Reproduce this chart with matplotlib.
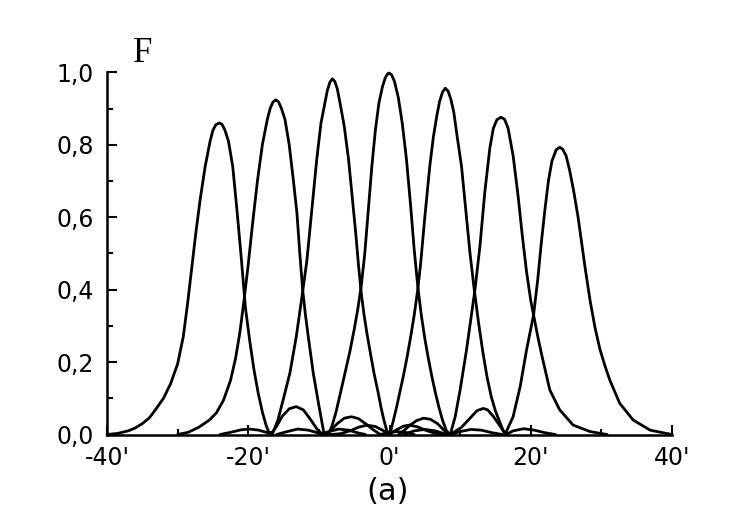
import matplotlib
matplotlib.use("Agg")
import matplotlib.pyplot as plt
from matplotlib.ticker import MultipleLocator, FixedLocator, FixedFormatter

# ---- data (angle in arc-minutes, F normalised) ----
beam_m24_x = [-40, -38.5, -37, -36, -35, -34, -33, -32, -31, -30, -29.2, -28.6, -28, -27.4,
              -26.8, -26.1, -25.4, -25.0, -24.6, -24.1, -23.7, -23.3, -22.8, -22.2, -21.6,
              -21.0, -20.4, -19.8, -19.2, -18.6, -18.0, -17.5, -17.1, -16.6, -16.0, -15.2,
              -14.2, -13.2, -12.2, -11.2, -10.3, -9.6, -8.6, -7.2, -5.8, -4.4, -3.4]
beam_m24_y = [0, 0.003, 0.010, 0.018, 0.030, 0.046, 0.072, 0.10, 0.14, 0.195, 0.27, 0.36,
              0.46, 0.56, 0.65, 0.74, 0.81, 0.84, 0.855, 0.86, 0.856, 0.84, 0.81, 0.74, 0.62,
              0.49, 0.35, 0.26, 0.18, 0.115, 0.062, 0.027, 0.006, 0.006, 0.022, 0.05, 0.071,
              0.077, 0.068, 0.042, 0.016, 0.002, 0.008, 0.015, 0.012, 0.004, 0.0]

beam_m16_x = [-30, -28.5, -27, -25.5, -24.5, -23.5, -22.5, -21.8, -21.2, -20.6, -20.0, -19.4,
              -18.7, -18.0, -17.3, -16.9, -16.5, -16.1, -15.7, -15.3, -14.8, -14.2, -13.6,
              -13.1, -12.7, -12.3, -11.9, -11.5, -10.8, -10.0, -9.3, -8.8, -8.4, -7.4, -6.4,
              -5.4, -4.4, -3.4, -2.3, -1.3, -0.5, 1.0, 2.5, 3.5]
beam_m16_y = [0, 0.006, 0.02, 0.04, 0.06, 0.095, 0.15, 0.21, 0.28, 0.37, 0.47, 0.58, 0.70,
              0.80, 0.87, 0.90, 0.918, 0.924, 0.918, 0.90, 0.87, 0.80, 0.70, 0.61, 0.50, 0.40,
              0.33, 0.27, 0.17, 0.08, 0.005, 0.004, 0.01, 0.03, 0.045, 0.049, 0.044, 0.03,
              0.013, 0.0, 0.004, 0.008, 0.005, 0.0]

beam_m8_x = [-24, -22.5, -21, -19.8, -18.5, -17.3, -16.6, -15.8, -15.0, -14.1, -13.2, -12.4,
             -11.7, -11.0, -10.3, -9.7, -9.1, -8.8, -8.45, -8.1, -7.75, -7.4, -7.0, -6.4,
             -5.8, -5.3, -4.8, -4.4, -4.0, -3.6, -3.2, -2.8, -2.2, -1.6, -1.2, -0.8, -0.4,
             -0.1, 1.0, 2.0, 2.8, 4.0, 5.2, 6.5, 7.8]
beam_m8_y = [0, 0.006, 0.013, 0.015, 0.012, 0.005, 0.0, 0.04, 0.10, 0.17, 0.27, 0.38, 0.48,
             0.62, 0.76, 0.86, 0.92, 0.95, 0.972, 0.982, 0.975, 0.955, 0.915, 0.85, 0.76,
             0.66, 0.56, 0.47, 0.39, 0.33, 0.28, 0.235, 0.17, 0.115, 0.075, 0.04, 0.012, 0.0,
             0.013, 0.023, 0.026, 0.021, 0.011, 0.003, 0.0]

beam_0_x = [-16, -14.5, -13, -11.5, -10, -8.7, -8.2, -7.6, -7.0, -6.3, -5.6, -5.0, -4.5, -4.0,
            -3.5, -3.0, -2.5, -2.0, -1.5, -1.0, -0.6, -0.25, -0.05, 0.3, 0.7, 1.25, 1.8, 2.4,
            3.0, 3.5, 4.0, 4.5, 5.0, 5.5, 6.0, 6.5, 7.0, 7.5, 8.0, 8.5, 10, 11.5, 13, 14.5, 16]
beam_0_y = [0, 0.008, 0.015, 0.012, 0.004, 0.0, 0.02, 0.06, 0.11, 0.17, 0.23, 0.29, 0.345,
            0.41, 0.50, 0.62, 0.74, 0.84, 0.915, 0.96, 0.985, 0.996, 0.998, 0.993, 0.975,
            0.93, 0.86, 0.76, 0.63, 0.51, 0.41, 0.33, 0.265, 0.21, 0.16, 0.115, 0.075, 0.04,
            0.013, 0.0, 0.008, 0.014, 0.012, 0.005, 0]

beam_p8_x = [-8.4, -7, -5.6, -4.4, -3.2, -2, -1, 0.05, 0.5, 1.0, 1.5, 2.0, 2.5, 3.0, 3.5, 4.0,
             4.4, 5.0, 5.7, 6.2, 6.7, 7.1, 7.5, 7.9, 8.3, 8.7, 9.1, 9.6, 10.2, 10.8, 11.4,
             12.0, 12.6, 13.2, 13.8, 14.4, 15.0, 15.6, 16.1, 16.5, 17.5, 19, 20.5, 22, 23.5]
beam_p8_y = [0, 0.002, 0.01, 0.02, 0.026, 0.022, 0.012, 0.0, 0.035, 0.075, 0.12, 0.165,
             0.215, 0.27, 0.33, 0.40, 0.47, 0.60, 0.74, 0.82, 0.88, 0.92, 0.945, 0.956,
             0.948, 0.925, 0.89, 0.82, 0.74, 0.62, 0.50, 0.40, 0.31, 0.23, 0.16, 0.105,
             0.065, 0.035, 0.01, 0.0, 0.01, 0.016, 0.012, 0.005, 0.0]

beam_p16_x = [1.3, 2.0, 2.8, 3.8, 4.8, 5.8, 6.8, 7.8, 8.6, 9.3, 10.0, 10.9, 11.6, 12.1, 12.8,
              13.5, 14.2, 14.7, 15.2, 15.8, 16.3, 16.8, 17.5, 18.2, 18.8, 19.4, 20.0, 20.4,
              21.0, 21.55, 22.7, 24.1, 26.0, 28.4, 30.8]
beam_p16_y = [0, 0.01, 0.024, 0.038, 0.045, 0.042, 0.03, 0.01, 0.0, 0.049, 0.123, 0.233,
              0.33, 0.40, 0.519, 0.67, 0.79, 0.845, 0.869, 0.876, 0.87, 0.845, 0.77, 0.66,
              0.55, 0.45, 0.37, 0.33, 0.27, 0.22, 0.123, 0.068, 0.026, 0.008, 0.0]

beam_p24_x = [2, 3.5, 5, 6.5, 8.1, 9.0, 10.2, 11.4, 12.4, 13.3, 13.9, 14.7, 15.6, 16.4, 17.5,
              18.5, 19.4, 20.4, 21.0, 21.5, 22.0, 22.5, 23.0, 23.6, 24.1, 24.5, 25.0, 25.5,
              26.1, 26.7, 27.2, 27.7, 28.4, 29.1, 29.8, 30.5, 31.2, 32.6, 34.5, 36.9, 39.2, 40]
beam_p24_y = [0, 0.01, 0.014, 0.01, 0.0, 0.005, 0.02, 0.045, 0.066, 0.072, 0.068, 0.05,
              0.025, 0.002, 0.049, 0.132, 0.233, 0.33, 0.43, 0.53, 0.62, 0.70, 0.755, 0.786,
              0.793, 0.788, 0.77, 0.73, 0.67, 0.60, 0.53, 0.46, 0.37, 0.295, 0.235, 0.19,
              0.15, 0.086, 0.04, 0.012, 0.003, 0.0]

beams = [(beam_m24_x, beam_m24_y), (beam_m16_x, beam_m16_y), (beam_m8_x, beam_m8_y),
         (beam_0_x, beam_0_y), (beam_p8_x, beam_p8_y), (beam_p16_x, beam_p16_y),
         (beam_p24_x, beam_p24_y)]

x_ticks = [-40, -20, 0, 20, 40]
x_tick_labels = ["-40'", "-20'", "0'", "20'", "40'"]
y_ticks = [0.0, 0.2, 0.4, 0.6, 0.8, 1.0]
y_tick_labels = ["0,0", "0,2", "0,4", "0,6", "0,8", "1,0"]

# ---- figure ----
W, H = 740, 515
fig = plt.figure(figsize=(W / 100, H / 100), dpi=100)
ax = fig.add_axes([107 / W, 1 - 434.5 / H, (672 - 107) / W, (434.5 - 72.3) / H])

for bx, by in beams:
    ax.plot(bx, by, color="black", lw=2.0, solid_joinstyle="round",
            solid_capstyle="round", clip_on=False)

ax.set_xlim(-40, 40)
ax.set_ylim(0, 1.0)
for s in ("top", "right"):
    ax.spines[s].set_visible(False)
for s in ("left", "bottom"):
    ax.spines[s].set_linewidth(1.8)

ax.xaxis.set_major_locator(FixedLocator(x_ticks))
ax.xaxis.set_major_formatter(FixedFormatter(x_tick_labels))
ax.xaxis.set_minor_locator(MultipleLocator(10))
ax.yaxis.set_major_locator(FixedLocator(y_ticks))
ax.yaxis.set_major_formatter(FixedFormatter(y_tick_labels))
ax.yaxis.set_minor_locator(MultipleLocator(0.1))

ax.tick_params(which="major", direction="in", length=7, width=1.5, labelsize=17,
               top=False, right=False)
ax.tick_params(which="minor", direction="in", length=4.5, width=1.5,
               top=False, right=False)
ax.tick_params(axis="y", which="major", pad=9.5)
ax.tick_params(axis="x", which="major", pad=8)
for lab in ax.get_xticklabels() + ax.get_yticklabels():
    lab.set_family("DejaVu Sans")

fig.text(133 / W, 1 - 53 / H, "F", family="Liberation Serif", fontsize=25,
         ha="left", va="center")
fig.text(388 / W, 1 - 492 / H, "(a)", family="DejaVu Sans", fontsize=22,
         ha="center", va="center")

fig.savefig("out.png", dpi=100)
